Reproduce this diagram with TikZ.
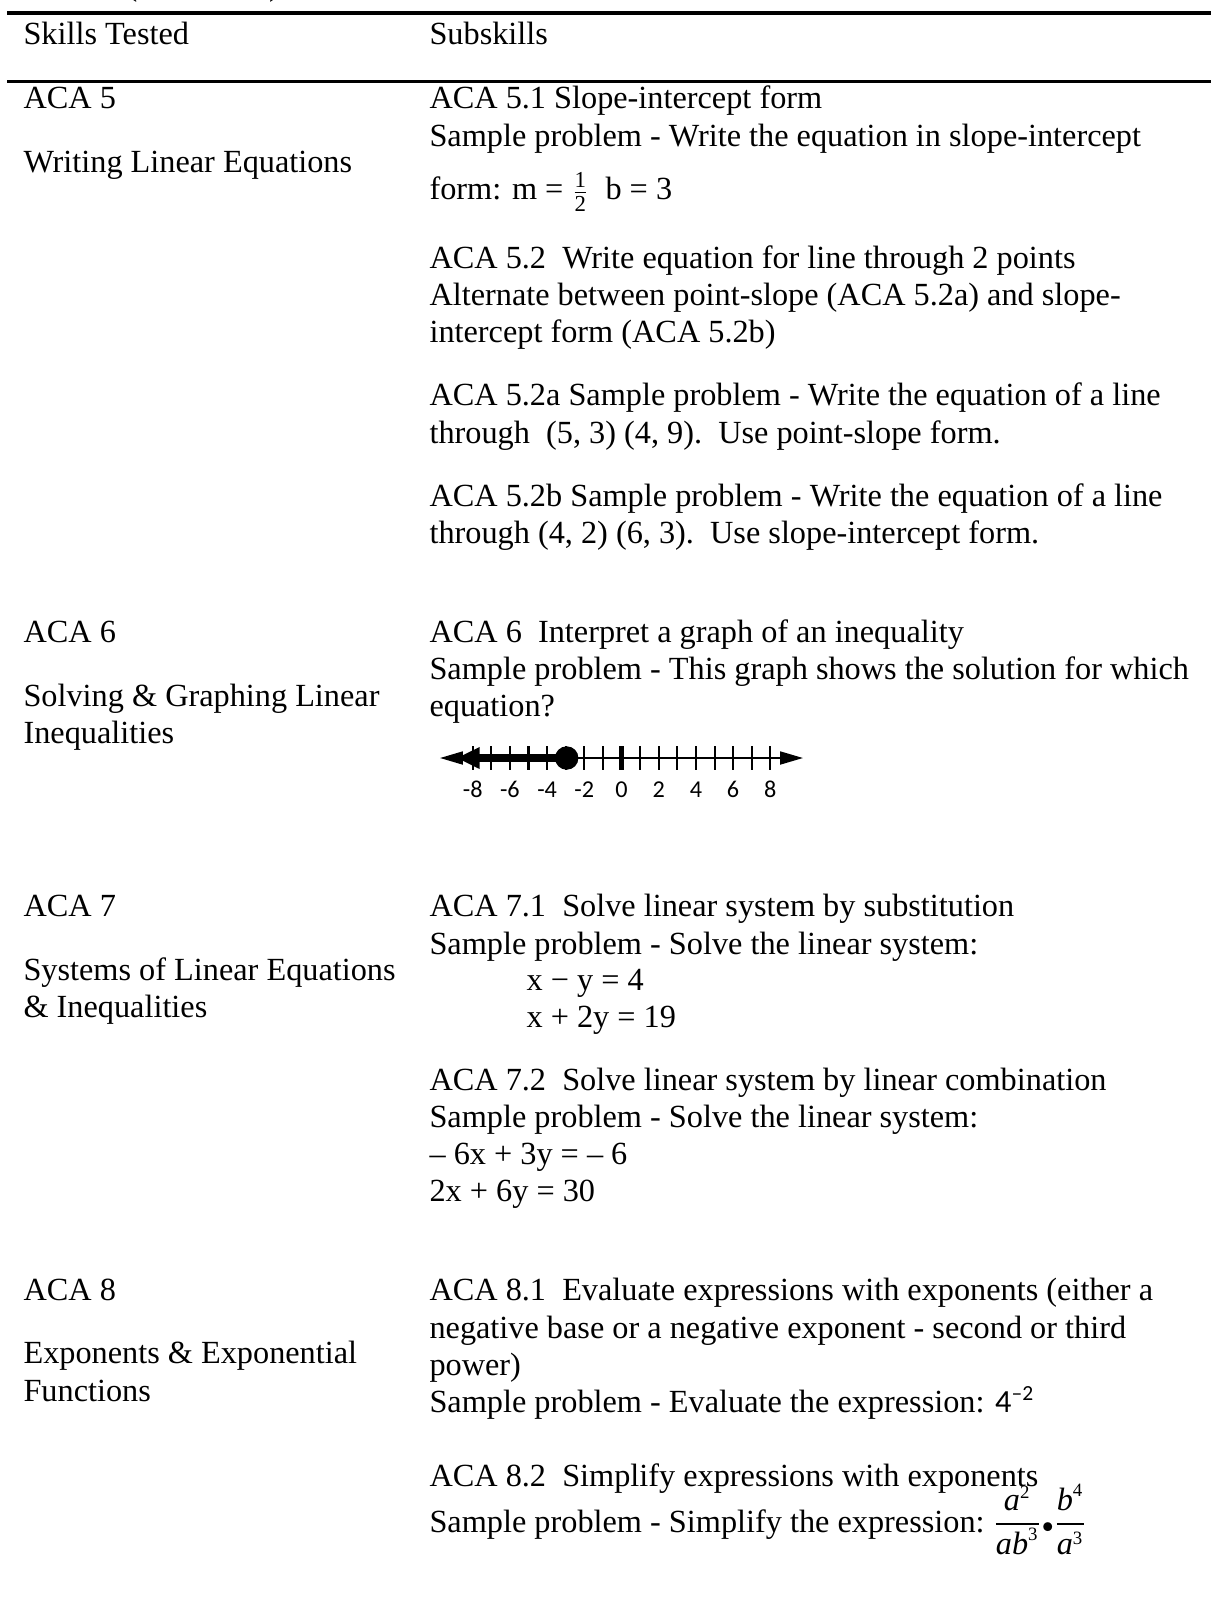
\documentclass[tikz,border=0pt]{standalone}
\usepackage{amsmath}
\usepackage{fontspec}
\setmainfont{Liberation Serif}
\newfontfamily\labelfont{Carlito}
\usetikzlibrary{arrows.meta}

\newcommand{\smallfig}[1]{\mbox{\fontsize{8.5}{8.5}\selectfont #1}}
\newcommand{\supfig}[1]{\mbox{\fontsize{7}{7}\selectfont #1}}

\begin{document}
\begin{tikzpicture}[x=0.3717pt, y=-0.3717pt,
        every node/.style={anchor=base west, inner sep=0pt, font=\fontsize{12}{13.8}\selectfont},
        numlbl/.style={anchor=base, font=\labelfont\fontsize{9}{10}\selectfont},
        tickmark/.style={line width=0.75pt}]
        \useasboundingbox (0,0) rectangle (1211,1619);
        \node (cont) at (126,-4) {(\hspace{49pt})};
        \draw[line width=1.5pt] (7,13) -- (1211,13);
        \draw[line width=1.1pt] (7,81.5) -- (1211,81.5);
        \foreach \y/\txt in {45/Skills Tested, 109/ACA 5, 173/Writing Linear Equations,
                642/ACA 6, 706/Solving \& Graphing Linear, 743/Inequalities,
                916/ACA 7, 980/Systems of Linear Equations, 1017/\& Inequalities,
                1300/ACA 8, 1363/Exponents \& Exponential, 1401/Functions} {
                        \node (skill\y) at (23,\y) {\txt};
                }
        \foreach \y/\txt in {45/Subskills,
                109/ACA 5.1 Slope-intercept form,
                146/Sample problem - Write the equation in slope-intercept,
                268/ACA 5.2\ \ Write equation for line through 2 points,
                305/Alternate between point-slope (ACA 5.2a) and slope-,
                342/intercept form (ACA 5.2b),
                405/ACA 5.2a Sample problem - Write the equation of a line,
                443/{through\ \ (5, 3) (4, 9).\ \ Use point-slope form.},
                506/ACA 5.2b Sample problem - Write the equation of a line,
                543/{through (4, 2) (6, 3).\ \ Use slope-intercept form.},
                642/ACA 6\ \ Interpret a graph of an inequality,
                679/Sample problem - This graph shows the solution for which,
                716/equation?,
                916/ACA 7.1\ \ Solve linear system by substitution,
                954/Sample problem - Solve the linear system:,
                1090/ACA 7.2\ \ Solve linear system by linear combination,
                1127/Sample problem - Solve the linear system:,
                1164/– 6x + 3y = – 6,
                1201/2x + 6y = 30,
                1300/ACA 8.1\ \ Evaluate expressions with exponents (either a,
                1338/negative base or a negative exponent - second or third,
                1375/power),
                1486/ACA 8.2\ \ Simplify expressions with exponents} {
                        \node (sub\y) at (429,\y) {\txt};
                }
        \node (sub200) at (429,200) {form: m =\ \(\genfrac{}{}{0.2pt}{}{\smallfig{1}}{\smallfig{2}}\)\ \ b = 3};
        \node (sys990) at (526,990) {x − y = 4};
        \node (sys1027) at (526,1027) {x + 2y = 19};
        \node (sub1412) at (429,1412) {Sample problem - Evaluate the expression: {\labelfont 4\textsuperscript{–2}}};
        \node (sub1532) at (429,1532) {Sample problem - Simplify the expression:\ 
                \(\displaystyle\frac{\mbox{\itshape a}^{\supfig{2}}}{\mbox{\itshape ab}^{\supfig{3}}}{\scriptstyle\bullet}\frac{\mbox{\itshape b}^{\supfig{4}}}{\mbox{\itshape a}^{\supfig{3}}}\)};
        \coordinate (nlL) at (440,758);
        \coordinate (nlR) at (803,758);
        \foreach \k in {-8,...,8} {
                \draw[tickmark] (621.5+18.6*\k,746) -- (621.5+18.6*\k,770);
            }
        \draw[line width=2pt] (621.5,746) -- (621.5,770);
        \draw[line width=0.75pt, {Triangle[length=8.5pt,width=4.8pt]}-{Triangle[length=8.5pt,width=4.8pt]}] (nlL) -- (nlR);
        \node[circle, fill, minimum size=8.7pt, anchor=center] (pt) at (566.7,758) {};
        \coordinate (thickL) at (456.7,758);
        \draw[line width=3pt, -{Triangle[length=8.5pt,width=7.5pt]}] (pt.center) -- (thickL);
        \foreach \k in {-8,-6,...,8} {
                \node[numlbl] (lbl\k) at (621.5+18.6*\k,797) {\k};
            }
    \end{tikzpicture}
\end{document}
